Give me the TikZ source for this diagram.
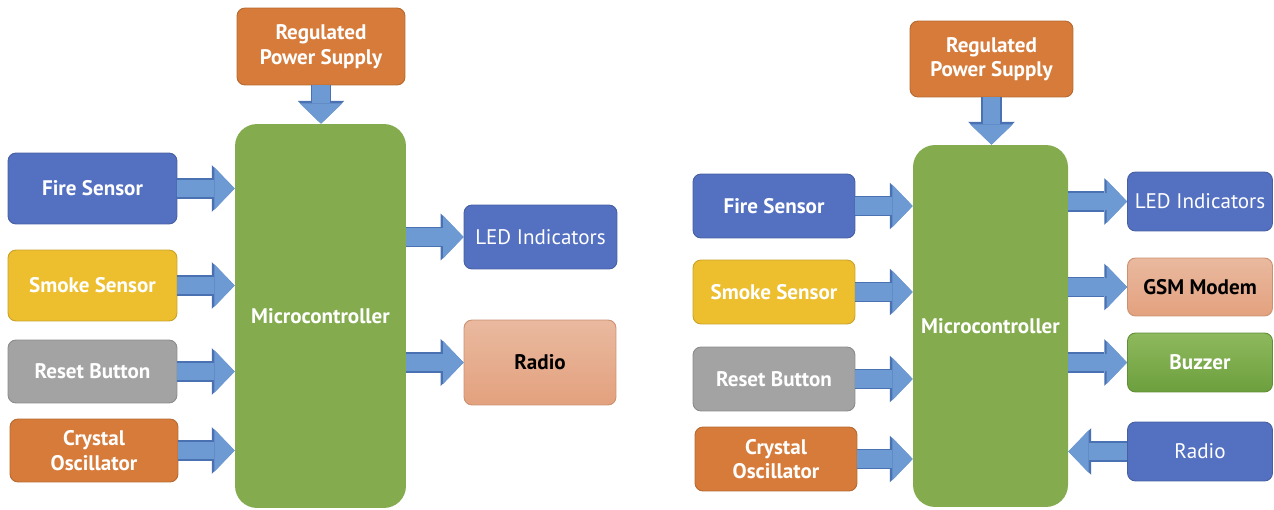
\documentclass[tikz,border=0pt]{standalone}
\usepackage{fontspec}
\setmainfont{PT Sans}
\usepackage{tikz}
\usetikzlibrary{arrows.meta}
\definecolor{colOrange}{HTML}{D67B3A}
\definecolor{colBlue}{HTML}{5470C0}
\definecolor{colYellow}{HTML}{EDBF2E}
\definecolor{colGray}{HTML}{A3A3A3}
\definecolor{colGreen}{HTML}{84AC4F}
\definecolor{colSalmonA}{HTML}{E9B99F}
\definecolor{colSalmonB}{HTML}{E3A17E}
\definecolor{colBuzzA}{HTML}{8EB95D}
\definecolor{colBuzzB}{HTML}{6C9F3D}
\definecolor{arrowfill}{HTML}{6E9AD3}
\definecolor{arrowedge}{HTML}{4A72B2}

\begin{document}
\begin{tikzpicture}[x=0.02cm,y=-0.02cm,
    block/.style={rounded corners=0.16cm, draw=#1!85!black, fill=#1, line width=0.5pt,
      text=white, align=center, inner sep=2pt,
      font=\fontsize{12}{14}\selectfont\bfseries},
    thinblock/.style={block=#1, font=\fontsize{12}{14}\selectfont},
    shadeblock/.style 2 args={rounded corners=0.16cm, draw=#2!90!black, top color=#1,
      bottom color=#2, line width=0.5pt, align=center, inner sep=2pt,
      font=\fontsize{12}{14}\selectfont\bfseries},
    mcu/.style={rounded corners=0.44cm, fill=colGreen, text=white, align=center,
      font=\fontsize{12}{14}\selectfont\bfseries},
    bigarrow/.style={draw=arrowedge, line width=11.6pt,
      -{Triangle[width=26.6pt,length=13pt,line width=0pt]},
      postaction={draw=arrowfill, line width=10.2pt,
      -{Triangle[width=24.4pt,length=11.6pt,line width=0pt]}}}]

  \useasboundingbox (0,0) rectangle (1274,510);

 % ================================================================
 % left: radio alarm
 % ================================================================
  \node[block=colOrange, minimum width=3.36cm, minimum height=1.54cm] (rps1) at (321,46.5) {Regulated\\Power Supply};
  \node[mcu, minimum width=3.42cm, minimum height=7.68cm] (mc1) at (320.5,316) {Microcontroller};

  % inputs
  \node[block=colBlue, minimum width=3.38cm, minimum height=1.42cm] (fire1) at (92.5,188.5) {Fire Sensor};
  \node[block=colYellow, minimum width=3.38cm, minimum height=1.42cm] (smoke1) at (92.5,285.5) {Smoke Sensor};
  \node[block=colGray, minimum width=3.38cm, minimum height=1.26cm] (reset1) at (92.5,371.5) {Reset Button};
  \node[block=colOrange, minimum width=3.36cm, minimum height=1.26cm] (xtal1) at (94,450.5) {Crystal\\Oscillator};

  % outputs
  \node[thinblock=colBlue, minimum width=3.06cm, minimum height=1.28cm] (led1) at (540.5,237) {LED Indicators};
  \node[shadeblock={colSalmonA}{colSalmonB}, minimum width=3.04cm, minimum height=1.7cm] (radio1) at (540,362.5) {Radio};

  % links
  \draw[bigarrow] (rps1.south) -- (rps1.south |- mc1.north);
  \draw[bigarrow] (fire1.east) -- (fire1.east -| mc1.west);
  \draw[bigarrow] (smoke1.east) -- (smoke1.east -| mc1.west);
  \draw[bigarrow] (reset1.east) -- (reset1.east -| mc1.west);
  \draw[bigarrow] (xtal1.east) -- (xtal1.east -| mc1.west);
  \draw[bigarrow] (led1.west -| mc1.east) -- (led1.west);
  \draw[bigarrow] (radio1.west -| mc1.east) -- (radio1.west);

 % ================================================================
 % right: GSM alarm
 % ================================================================
  \node[block=colOrange, minimum width=3.26cm, minimum height=1.52cm] (rps2) at (991.5,59) {Regulated\\Power Supply};
  \node[mcu, minimum width=3.1cm, minimum height=7.24cm] (mc2) at (990.5,326) {Microcontroller};

  % inputs
  \node[block=colBlue, minimum width=3.24cm, minimum height=1.28cm] (fire2) at (774,206) {Fire Sensor};
  \node[block=colYellow, minimum width=3.24cm, minimum height=1.28cm] (smoke2) at (774,292) {Smoke Sensor};
  \node[block=colGray, minimum width=3.24cm, minimum height=1.28cm] (reset2) at (774,379) {Reset Button};
  \node[block=colOrange, minimum width=3.24cm, minimum height=1.28cm] (xtal2) at (776,459) {Crystal\\Oscillator};

  % outputs
  \node[thinblock=colBlue, minimum width=2.9cm, minimum height=1.18cm] (led2) at (1200,201.5) {LED Indicators};
  \node[shadeblock={colSalmonA}{colSalmonB}, minimum width=2.9cm, minimum height=1.16cm] (gsm2) at (1200,287) {GSM Modem};
  \node[shadeblock={colBuzzA}{colBuzzB}, text=white, minimum width=2.9cm, minimum height=1.18cm] (buzz2) at (1200,362.5) {Buzzer};
  \node[thinblock=colBlue, minimum width=2.9cm, minimum height=1.18cm] (radio2) at (1200,451.5) {Radio};

  % links
  \draw[bigarrow] (rps2.south) -- (rps2.south |- mc2.north);
  \draw[bigarrow] (fire2.east) -- (fire2.east -| mc2.west);
  \draw[bigarrow] (smoke2.east) -- (smoke2.east -| mc2.west);
  \draw[bigarrow] (reset2.east) -- (reset2.east -| mc2.west);
  \draw[bigarrow] (xtal2.east) -- (xtal2.east -| mc2.west);
  \draw[bigarrow] (led2.west -| mc2.east) -- (led2.west);
  \draw[bigarrow] (gsm2.west -| mc2.east) -- (gsm2.west);
  \draw[bigarrow] (buzz2.west -| mc2.east) -- (buzz2.west);
  \draw[bigarrow] (radio2.west) -- (radio2.west -| mc2.east);

\end{tikzpicture}
\end{document}
